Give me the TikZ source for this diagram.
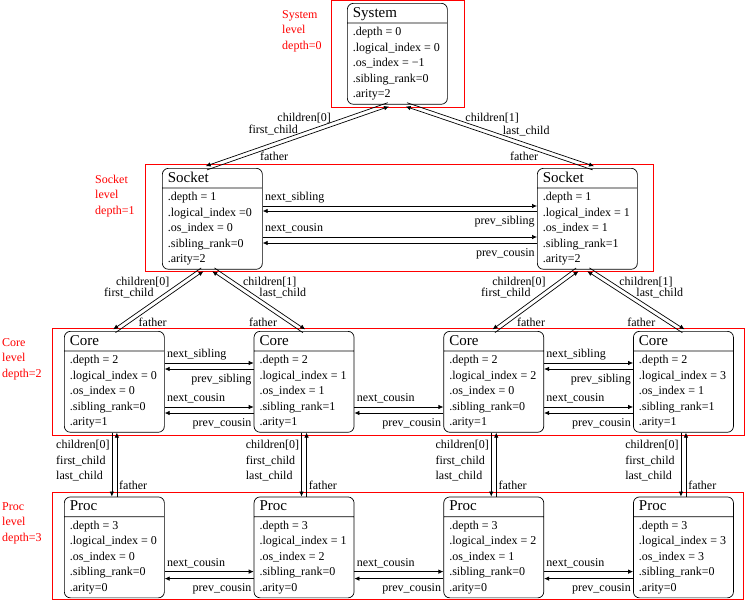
\documentclass[tikz,border=0pt]{standalone}
\usepackage{fontspec}
\setmainfont{Liberation Serif}
\usetikzlibrary{arrows.meta,positioning,calc,shapes.multipart}
\tikzset{
  objbox/.style={draw,rectangle split,rectangle split parts=2,rounded corners=6pt,
    rectangle split part align={left},minimum width=100pt,inner xsep=5.5pt,inner ysep=1.5pt,
    line width=0.7pt,font=\fontsize{12}{15.5}\selectfont},
  lvlframe/.style={draw=red,line width=0.7pt},
  lvltxt/.style={text=red,align=left,inner sep=0pt,font=\fontsize{12}{15.5}\selectfont},
  arr/.style={-{Latex[length=5pt,width=4.5pt]},line width=0.7pt},
  lbl/.style={font=\fontsize{12}{15.5}\selectfont,inner sep=2pt,text height=11pt,text depth=3pt},
  flbl/.style={lbl,inner sep=0pt,text height=9pt,text depth=0pt},
  blkl/.style={font=\fontsize{12}{15.5}\selectfont,inner sep=2pt,align=left}
}
\newcommand\objtext[6]{{\fontsize{15}{18}\selectfont\rule[-4pt]{0pt}{16pt}#1}%
  \nodepart{second}\begin{tabular}{@{}l@{}}#2\\#3\\#4\\#5\\#6\end{tabular}}

\begin{document}
\begin{tikzpicture}[x=1pt,y=-1pt,node distance=64pt and 89pt]
  \useasboundingbox (0,0) rectangle (745,600);

  % level frames
  \draw[lvlframe] (331,0.5) rectangle (464,107);
  \draw[lvlframe] (145,164) rectangle (653,271);
  \draw[lvlframe] (52,328) rectangle (744,435);
  \draw[lvlframe] (52,492) rectangle (743.5,599);

  % level labels
  \node[lvltxt,anchor=west] (lvlsys) at (282,31) {System\\level\\depth=0};
  \node[lvltxt,anchor=west] (lvlsock) at (95,196) {Socket\\level\\depth=1};
  \node[lvltxt,anchor=west] (lvlcore) at (2,359) {Core\\level\\depth=2};
  \node[lvltxt,anchor=west] (lvlproc) at (2,523) {Proc\\level\\depth=3};

  % objects
  \node[objbox,anchor=north west] (sys) at (347,3)
    {\objtext{System}{.depth = 0}{.logical\_index = 0}{.os\_index = −1}{.sibling\_rank=0}{.arity=2}};
  \node[objbox,anchor=north west] (sockA) at (162,168)
    {\objtext{Socket}{.depth = 1}{.logical\_index =0}{.os\_index = 0}{.sibling\_rank=0}{.arity=2}};
  \node[objbox,anchor=north west] (sockB) at (537,168)
    {\objtext{Socket}{.depth = 1}{.logical\_index = 1}{.os\_index = 1}{.sibling\_rank=1}{.arity=2}};

  \node[objbox,anchor=north west] (coreA) at (64,331)
    {\objtext{Core}{.depth = 2}{.logical\_index = 0}{.os\_index = 0}{.sibling\_rank=0}{.arity=1}};
  \node[objbox,right=of coreA] (coreB)
    {\objtext{Core}{.depth = 2}{.logical\_index = 1}{.os\_index = 1}{.sibling\_rank=1}{.arity=1}};
  \node[objbox,right=of coreB] (coreC)
    {\objtext{Core}{.depth = 2}{.logical\_index = 2}{.os\_index = 0}{.sibling\_rank=0}{.arity=1}};
  \node[objbox,right=of coreC] (coreD)
    {\objtext{Core}{.depth = 2}{.logical\_index = 3}{.os\_index = 1}{.sibling\_rank=1}{.arity=1}};

  \node[objbox,below=of coreA] (procA)
    {\objtext{Proc}{.depth = 3}{.logical\_index = 0}{.os\_index = 0}{.sibling\_rank=0}{.arity=0}};
  \node[objbox,right=of procA] (procB)
    {\objtext{Proc}{.depth = 3}{.logical\_index = 1}{.os\_index = 2}{.sibling\_rank=0}{.arity=0}};
  \node[objbox,right=of procB] (procC)
    {\objtext{Proc}{.depth = 3}{.logical\_index = 2}{.os\_index = 1}{.sibling\_rank=0}{.arity=0}};
  \node[objbox,right=of procC] (procD)
    {\objtext{Proc}{.depth = 3}{.logical\_index = 3}{.os\_index = 3}{.sibling\_rank=0}{.arity=0}};

  % system -> sockets
  \coordinate (sysL) at ([xshift=-9pt]sys.south);
  \coordinate (sysR) at ([xshift=9pt]sys.south);
  \coordinate (sockAin) at ([xshift=-6pt]sockA.north);
  \coordinate (sockBin) at ([xshift=6pt]sockB.north);
  \draw[arr] ($(sysL)!2pt!-90:(sockAin)$) -- ($(sockAin)!2pt!90:(sysL)$)
    node[lbl,pos=.30,anchor=base east]{children[0]}
    node[lbl,pos=.48,anchor=base east]{first\_child};
  \draw[arr] ($(sockAin)!2pt!-90:(sysL)$) -- ($(sysL)!2pt!90:(sockAin)$)
    node[flbl,pos=.29,anchor=north west]{father};
  \draw[arr] ($(sysR)!2pt!90:(sockBin)$) -- ($(sockBin)!2pt!-90:(sysR)$)
    node[lbl,pos=.30,anchor=base west]{children[1]}
    node[lbl,pos=.50,anchor=base west]{last\_child};
  \draw[arr] ($(sockBin)!2pt!90:(sysR)$) -- ($(sysR)!2pt!-90:(sockBin)$)
    node[flbl,pos=.29,anchor=north east]{father};

  % sockets -> cores
  \coordinate (sockAL) at ([xshift=-10pt]sockA.south);
  \coordinate (sockAR) at ([xshift=1pt]sockA.south);
  \coordinate (sockBL) at ([xshift=-10pt]sockB.south);
  \coordinate (sockBR) at ([xshift=1pt]sockB.south);
  \draw[arr] ($(sockAL)!2pt!-90:(coreA.north)$) -- ($(coreA.north)!2pt!90:(sockAL)$)
    node[lbl,pos=.29,anchor=base east,xshift=-4pt]{children[0]}
    node[lbl,pos=.47,anchor=base east,xshift=-4pt]{first\_child};
  \draw[arr] ($(coreA.north)!2pt!-90:(sockAL)$) -- ($(sockAL)!2pt!90:(coreA.north)$)
    node[flbl,pos=.26,anchor=north west]{father};
  \draw[arr] ($(sockAR)!2pt!90:(coreB.north)$) -- ($(coreB.north)!2pt!-90:(sockAR)$)
    node[lbl,pos=.29,anchor=base west]{children[1]}
    node[lbl,pos=.47,anchor=base west]{last\_child};
  \draw[arr] ($(coreB.north)!2pt!90:(sockAR)$) -- ($(sockAR)!2pt!-90:(coreB.north)$)
    node[flbl,pos=.26,anchor=north east,xshift=-2pt]{father};
  \draw[arr] ($(sockBL)!2pt!-90:(coreC.north)$) -- ($(coreC.north)!2pt!90:(sockBL)$)
    node[lbl,pos=.29,anchor=base east,xshift=-4pt]{children[0]}
    node[lbl,pos=.47,anchor=base east,xshift=-4pt]{first\_child};
  \draw[arr] ($(coreC.north)!2pt!-90:(sockBL)$) -- ($(sockBL)!2pt!90:(coreC.north)$)
    node[flbl,pos=.26,anchor=north west]{father};
  \draw[arr] ($(sockBR)!2pt!90:(coreD.north)$) -- ($(coreD.north)!2pt!-90:(sockBR)$)
    node[lbl,pos=.29,anchor=base west]{children[1]}
    node[lbl,pos=.47,anchor=base west]{last\_child};
  \draw[arr] ($(coreD.north)!2pt!90:(sockBR)$) -- ($(sockBR)!2pt!-90:(coreD.north)$)
    node[flbl,pos=.26,anchor=north east,xshift=-2pt]{father};

  % cores -> procs
  \foreach \c/\p in {coreA/procA,coreB/procB,coreC/procC,coreD/procD}{
    \draw[arr] ([xshift=-2.5pt]\c.south) -- ([xshift=-2.5pt]\p.north)
      node[blkl,pos=.44,anchor=east]{children[0]\\first\_child\\last\_child};
    \draw[arr] ([xshift=2.5pt]\p.north) -- ([xshift=2.5pt]\c.south)
      node[lbl,pos=.17,anchor=west]{father};
  }

  % sibling and cousin links
  \draw[arr] ($(sockA.north east)+(0,38)$) -- ($(sockB.north west)+(0,38)$)
    node[lbl,pos=0,anchor=south west]{next\_sibling};
  \draw[arr] ($(sockB.north west)+(0,43)$) -- ($(sockA.north east)+(0,43)$)
    node[lbl,pos=0,anchor=north east]{prev\_sibling};
  \draw[arr] ($(sockA.north east)+(0,69)$) -- ($(sockB.north west)+(0,69)$)
    node[lbl,pos=0,anchor=south west]{next\_cousin};
  \draw[arr] ($(sockB.north west)+(0,75)$) -- ($(sockA.north east)+(0,75)$)
    node[lbl,pos=0,anchor=north east]{prev\_cousin};
  \foreach \a/\b in {coreA/coreB,coreC/coreD}{
    \draw[arr] ($(\a.north east)+(0,32)$) -- ($(\b.north west)+(0,32)$)
      node[lbl,pos=0,anchor=south west]{next\_sibling};
    \draw[arr] ($(\b.north west)+(0,38)$) -- ($(\a.north east)+(0,38)$)
      node[lbl,pos=0,anchor=north east]{prev\_sibling};
  }
  \foreach \a/\b in {coreA/coreB,coreB/coreC,coreC/coreD}{
    \draw[arr] ($(\a.north east)+(0,76)$) -- ($(\b.north west)+(0,76)$)
      node[lbl,pos=0,anchor=south west]{next\_cousin};
    \draw[arr] ($(\b.north west)+(0,82)$) -- ($(\a.north east)+(0,82)$)
      node[lbl,pos=0,anchor=north east]{prev\_cousin};
  }
  \foreach \a/\b in {procA/procB,procB/procC,procC/procD}{
    \draw[arr] ($(\a.north east)+(0,75)$) -- ($(\b.north west)+(0,75)$)
      node[lbl,pos=0,anchor=south west]{next\_cousin};
    \draw[arr] ($(\b.north west)+(0,82)$) -- ($(\a.north east)+(0,82)$)
      node[lbl,pos=0,anchor=north east]{prev\_cousin};
  }
\end{tikzpicture}
\end{document}
